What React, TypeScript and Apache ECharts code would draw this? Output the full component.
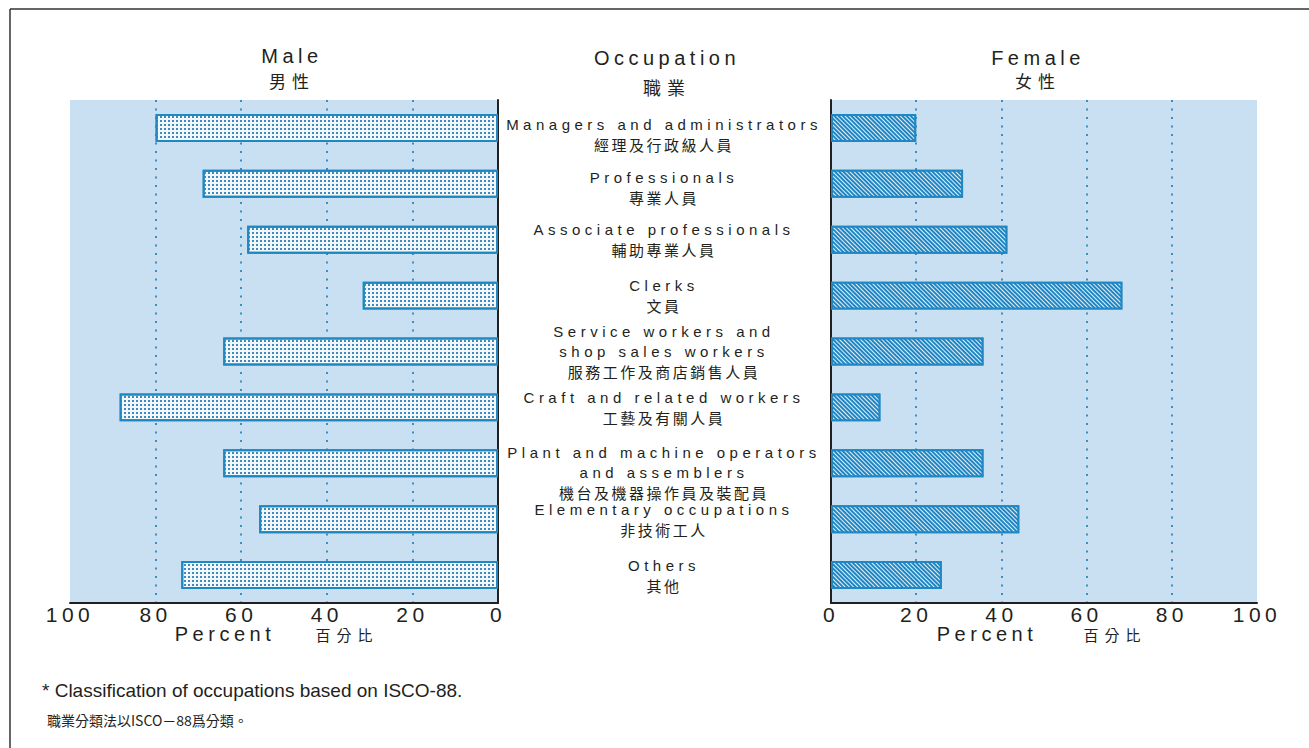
import React, { useEffect, useRef } from 'react';
import * as echarts from 'echarts';

const categoriesEn = [
  'Managers and administrators',
  'Professionals',
  'Associate professionals',
  'Clerks',
  'Service workers and\nshop sales workers',
  'Craft and related workers',
  'Plant and machine operators\nand assemblers',
  'Elementary occupations',
  'Others',
];
const categoriesZh = [
  '經理及行政級人員',
  '專業人員',
  '輔助專業人員',
  '文員',
  '服務工作及商店銷售人員',
  '工藝及有關人員',
  '機台及機器操作員及裝配員',
  '非技術工人',
  '其他',
];
const maleValues = [80.0, 69.0, 58.6, 31.6, 64.2, 88.4, 64.2, 55.8, 74.0];
const femaleValues = [20.0, 31.0, 41.4, 68.4, 35.8, 11.6, 35.8, 44.2, 26.0];

const titleMale = ['Male', '男性'];
const titleOcc = ['Occupation', '職業'];
const titleFemale = ['Female', '女性'];
const axisTitle = ['Percent', '百分比'];
const footnoteEn = '* Classification of occupations based on ISCO-88.';
const footnoteZh = '職業分類法以ISCO－88爲分類。';

// layout tweaks (not data): extra space above some labels
const labelPadTop = [14, 7, 0, 0, 0, 0, 19, 0, 0];

const INK = '#231f20';
const BG = '#c8e0f1';
const BLUE = '#1f87c2';
const EN = 'Liberation Sans, zlsA';
const ZH_LBL = 'Noto Sans CJK TC, zlsD';
const ZH_TTL = 'Noto Sans CJK TC, zlsB';

export default function App() {
  const ref = useRef<HTMLDivElement>(null);
  useEffect(() => {
    const chart = echarts.init(ref.current!, null, { renderer: 'svg' });

    const txt = (text: string, x: number, y: number, size: number, family: string, align = 'center', lh?: number) => ({
      type: 'text',
      x,
      y,
      style: {
        text, fontSize: size, fontFamily: family, fill: INK, textAlign: align, verticalAlign: 'middle',
        lineHeight: lh ?? size + 2,
      },
    });

    const splitLine = {
      show: true,
      showMinLine: false,
      showMaxLine: false,
      lineStyle: { type: [2, 6.5], color: '#2a86c0', width: 1.8 },
    };
    const axisLine = { show: true, onZero: false, lineStyle: { color: INK, width: 2 } };
    const tickLabel = { fontSize: 21, fontFamily: EN, color: INK, margin: 3, lineHeight: 16 };

    const rich: Record<string, any> = {
      en: { fontSize: 15, fontFamily: EN, color: INK, lineHeight: 20, align: 'center' },
      zh: { fontSize: 15, fontFamily: ZH_LBL, color: INK, lineHeight: 20, align: 'center' },
    };
    labelPadTop.forEach((p, i) => {
      if (p) rich['sp' + i] = { fontSize: 1, lineHeight: p, height: p };
    });

    chart.setOption({
      animation: false,
      backgroundColor: '#ffffff',
      grid: [
        { left: 70, top: 100, width: 428, height: 503, show: true, backgroundColor: BG, borderWidth: 0 },
        { left: 831, top: 100, width: 426, height: 503, show: true, backgroundColor: BG, borderWidth: 0 },
      ],
      xAxis: [
        {
          gridIndex: 0, type: 'value', min: 0, max: 100, interval: 20, inverse: true,
          axisLine, axisTick: { show: false }, splitLine, axisLabel: tickLabel,
        },
        {
          gridIndex: 1, type: 'value', min: 0, max: 100, interval: 20,
          axisLine, axisTick: { show: false }, splitLine, axisLabel: tickLabel,
        },
      ],
      yAxis: [
        {
          gridIndex: 0, type: 'category', inverse: true, position: 'right',
          data: categoriesEn,
          axisLine, axisTick: { show: false }, axisLabel: { show: false }, splitLine: { show: false },
        },
        {
          gridIndex: 1, type: 'category', inverse: true, position: 'left',
          data: categoriesEn.map((c) => ({
            value: c,
            textStyle: { align: 'center', verticalAlign: 'middle' },
          })),
          axisLine, axisTick: { show: false }, splitLine: { show: false },
          axisLabel: {
            interval: 0,
            margin: 167,
            align: 'center',
            verticalAlign: 'middle',
            formatter: (value: string, index: number) => {
              const lines = value.split('\n').map((l) => `{en|${l}}`);
              lines.push(`{zh|${categoriesZh[index]}}`);
              return (labelPadTop[index] ? `{sp${index}| }\n` : '') + lines.join('\n');
            },
            rich,
          },
        },
      ],
      series: [
        {
          type: 'bar', xAxisIndex: 0, yAxisIndex: 0, data: maleValues, barWidth: '50%',
          itemStyle: {
            color: '#f3f7f9', borderColor: BLUE, borderWidth: 2,
            decal: {
              symbol: 'rect', symbolSize: 1, color: '#3d8cbf', backgroundColor: '#f3f7f9',
              dashArrayX: [1.3, 1.7], dashArrayY: [1.3, 1.7],
            },
          },
        },
        {
          type: 'bar', xAxisIndex: 1, yAxisIndex: 1, data: femaleValues, barWidth: '50%',
          itemStyle: {
            color: '#1f86c3', borderColor: BLUE, borderWidth: 2,
            decal: {
              symbol: 'rect', symbolSize: 1, color: '#e4f1f9', backgroundColor: '#1f86c3',
              dashArrayX: [1, 0], dashArrayY: [1, 2], rotation: Math.PI / 4,
            },
          },
        },
      ],
      graphic: [
        { type: 'line', shape: { x1: 10, y1: 9, x2: 1309, y2: 9 }, style: { stroke: '#333', lineWidth: 1.5 } },
        { type: 'line', shape: { x1: 10, y1: 9, x2: 10, y2: 748 }, style: { stroke: '#333', lineWidth: 1.5 } },
        txt(titleMale[0], 292, 56, 20, EN),
        txt(titleMale[1], 292, 80, 17, ZH_TTL),
        txt(titleOcc[0], 667, 58, 20, EN),
        txt(titleOcc[1], 667, 87, 18, ZH_TTL),
        txt(titleFemale[0], 1038, 58, 20, EN),
        txt(titleFemale[1], 1038, 80, 17, ZH_TTL),
        txt(axisTitle[0], 225, 634, 20, EN, 'center', 16),
        txt(axisTitle[1], 347, 634, 15, ZH_TTL, 'center', 16),
        txt(axisTitle[0], 987, 634, 20, EN, 'center', 16),
        txt(axisTitle[1], 1115, 634, 15, ZH_TTL, 'center', 16),
        txt(footnoteEn, 42, 690, 19, 'Liberation Sans', 'left'),
        txt(footnoteZh, 47, 720, 14, 'Noto Sans CJK TC', 'left'),
      ],
    });
    return () => chart.dispose();
  }, []);

  return (
    <>
      <style>{`
        .occchart text[style*="zlsA"]{letter-spacing:4.5px}
        .occchart text[style*="zlsB"]{letter-spacing:6px}
        .occchart text[style*="zlsD"]{letter-spacing:2.5px}
      `}</style>
      <div
        ref={ref}
        className="occchart"
        style={{ position: 'absolute', left: 0, top: 0, width: 1309, height: 748, background: '#fff' }}
      />
    </>
  );
}
